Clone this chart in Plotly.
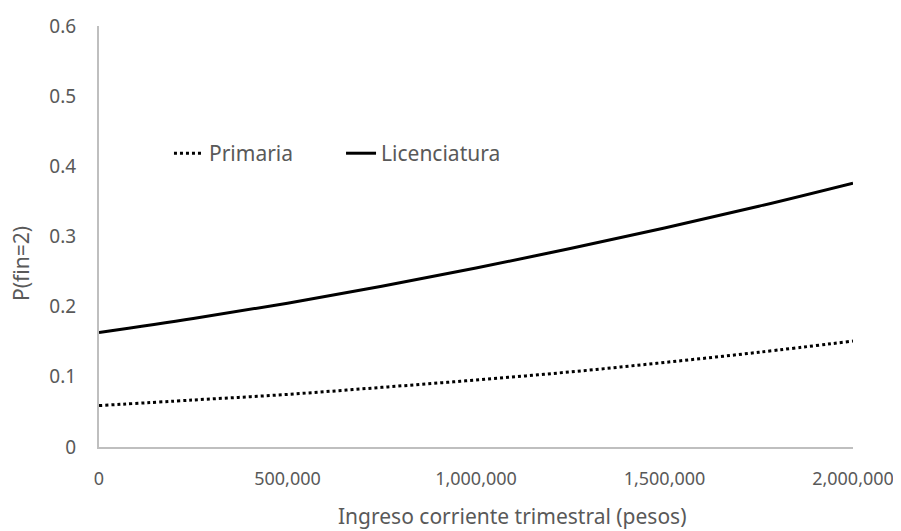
import plotly.graph_objects as go

ingreso = [0, 250000, 500000, 750000, 1000000, 1250000, 1500000, 1750000, 2000000]
primaria = [0.059, 0.067, 0.075, 0.085, 0.0955, 0.107, 0.1205, 0.135, 0.151]
licenciatura = [0.163, 0.183, 0.205, 0.229, 0.255, 0.283, 0.312, 0.343, 0.376]

FONT = "Noto Sans"
GRAY = "#595959"

fig = go.Figure()
fig.add_trace(go.Scatter(x=ingreso, y=primaria, mode="lines", name="Primaria",
                         legend="legend",
                         line=dict(color="black", width=3, dash="dot", shape="spline")))
fig.add_trace(go.Scatter(x=ingreso, y=licenciatura, mode="lines", name="Licenciatura",
                         legend="legend2",
                         line=dict(color="black", width=3, shape="spline")))

leg_common = dict(orientation="h", yanchor="middle", xanchor="left",
                  font=dict(family=FONT, size=21, color=GRAY),
                  bgcolor="rgba(0,0,0,0)")

fig.update_layout(
    width=901, height=531,
    margin=dict(l=91, r=56, t=18, b=92, autoexpand=False),
    paper_bgcolor="white", plot_bgcolor="white",
    font=dict(family=FONT, size=18, color=GRAY),
    showlegend=True,
    legend=dict(x=0.0928, y=0.697, **leg_common),
    legend2=dict(x=0.321, y=0.697, **leg_common),
    xaxis=dict(range=[0, 2000000], tickvals=[0, 500000, 1000000, 1500000, 2000000],
               tickformat=",", showgrid=False, zeroline=False, showline=True,
               automargin=False,
               linecolor="#BFBFBF", linewidth=2, ticks="", ticklabelstandoff=14,
               tickfont=dict(family=FONT, size=18, color=GRAY)),
    yaxis=dict(range=[0, 0.6], tickvals=[0, 0.1, 0.2, 0.3, 0.4, 0.5, 0.6],
               ticktext=["0", "0.1", "0.2", "0.3", "0.4", "0.5", "0.6"],
               showgrid=False, zeroline=False, showline=True,
               automargin=False,
               linecolor="#BFBFBF", linewidth=2, ticks="", ticklabelstandoff=17,
               tickfont=dict(family=FONT, size=19, color=GRAY)),
    annotations=[
        dict(text="Ingreso corriente trimestral (pesos)", xref="paper", yref="paper",
             x=0.548, y=-0.163, xanchor="center", yanchor="middle", showarrow=False,
             font=dict(family=FONT, size=21, color=GRAY)),
        dict(text="P(f\u200cin=2)", xref="paper", yref="paper", textangle=-90,
             x=-0.1034, y=0.435, xanchor="center", yanchor="middle", showarrow=False,
             font=dict(family=FONT, size=21, color=GRAY)),
    ],
)

fig.write_html("out.html")
